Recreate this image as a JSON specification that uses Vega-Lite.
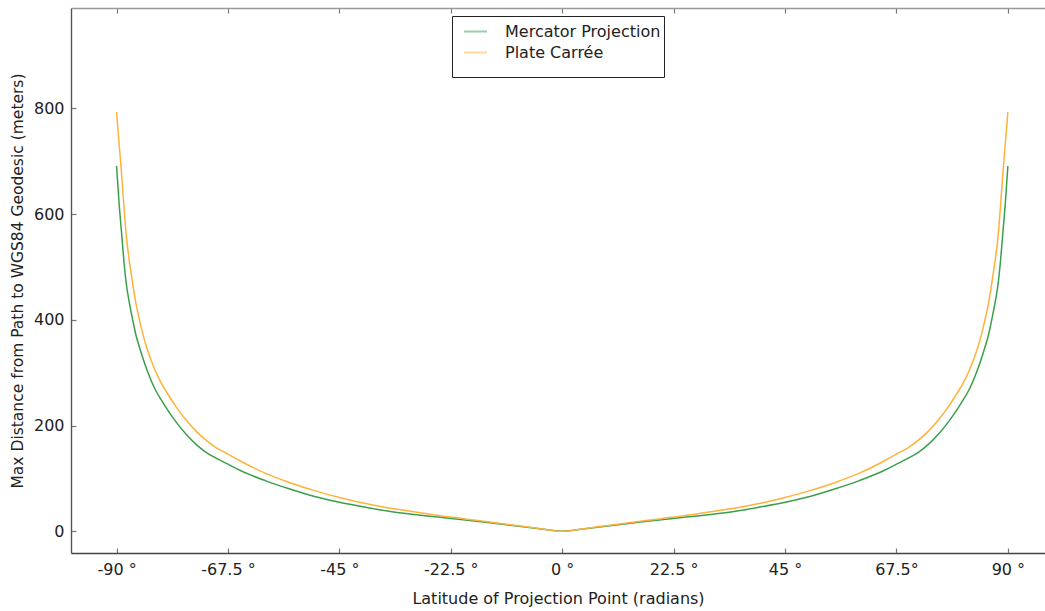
{
  "$schema": "https://vega.github.io/schema/vega-lite/v6.json",
  "width": 974,
  "height": 545,
  "autosize": {"type": "none"},
  "padding": {"left": 71, "top": 8, "right": 0, "bottom": 58},
  "background": "white",
  "config": {
    "view": {"stroke": null},
    "font": "DejaVu Sans",
    "axis": {"labelFont": "DejaVu Sans", "titleFont": "DejaVu Sans", "labelFontSize": 16, "titleFontSize": 16, "titleFontWeight": "normal", "labelColor": "#222", "titleColor": "#222", "grid": false, "tickColor": "#777", "tickWidth": 1.2}
  },
  "datasets": {
    "pts": [
      {"lat": -90, "v": 691, "s": "Mercator Projection"},
      {"lat": -89.5, "v": 622, "s": "Mercator Projection"},
      {"lat": -89, "v": 566, "s": "Mercator Projection"},
      {"lat": -88.5, "v": 510, "s": "Mercator Projection"},
      {"lat": -88, "v": 466, "s": "Mercator Projection"},
      {"lat": -87.5, "v": 437, "s": "Mercator Projection"},
      {"lat": -87, "v": 412, "s": "Mercator Projection"},
      {"lat": -86.5, "v": 389, "s": "Mercator Projection"},
      {"lat": -86, "v": 368, "s": "Mercator Projection"},
      {"lat": -85.5, "v": 352, "s": "Mercator Projection"},
      {"lat": -85, "v": 337, "s": "Mercator Projection"},
      {"lat": -84, "v": 309, "s": "Mercator Projection"},
      {"lat": -83, "v": 285, "s": "Mercator Projection"},
      {"lat": -82, "v": 265, "s": "Mercator Projection"},
      {"lat": -81, "v": 249, "s": "Mercator Projection"},
      {"lat": -80, "v": 234, "s": "Mercator Projection"},
      {"lat": -78, "v": 207, "s": "Mercator Projection"},
      {"lat": -76, "v": 184, "s": "Mercator Projection"},
      {"lat": -74, "v": 165, "s": "Mercator Projection"},
      {"lat": -72, "v": 150, "s": "Mercator Projection"},
      {"lat": -70, "v": 139, "s": "Mercator Projection"},
      {"lat": -67.5, "v": 127, "s": "Mercator Projection"},
      {"lat": -65, "v": 115, "s": "Mercator Projection"},
      {"lat": -60, "v": 96, "s": "Mercator Projection"},
      {"lat": -55, "v": 80, "s": "Mercator Projection"},
      {"lat": -50, "v": 66, "s": "Mercator Projection"},
      {"lat": -45, "v": 55, "s": "Mercator Projection"},
      {"lat": -40, "v": 46, "s": "Mercator Projection"},
      {"lat": -35, "v": 38, "s": "Mercator Projection"},
      {"lat": -30, "v": 32, "s": "Mercator Projection"},
      {"lat": -25, "v": 27, "s": "Mercator Projection"},
      {"lat": -20, "v": 22, "s": "Mercator Projection"},
      {"lat": -15, "v": 16.5, "s": "Mercator Projection"},
      {"lat": -10, "v": 11, "s": "Mercator Projection"},
      {"lat": -5, "v": 5.5, "s": "Mercator Projection"},
      {"lat": 0, "v": 0, "s": "Mercator Projection"},
      {"lat": 5, "v": 5.5, "s": "Mercator Projection"},
      {"lat": 10, "v": 11, "s": "Mercator Projection"},
      {"lat": 15, "v": 16.5, "s": "Mercator Projection"},
      {"lat": 20, "v": 22, "s": "Mercator Projection"},
      {"lat": 25, "v": 27, "s": "Mercator Projection"},
      {"lat": 30, "v": 32, "s": "Mercator Projection"},
      {"lat": 35, "v": 38, "s": "Mercator Projection"},
      {"lat": 40, "v": 46, "s": "Mercator Projection"},
      {"lat": 45, "v": 55, "s": "Mercator Projection"},
      {"lat": 50, "v": 66, "s": "Mercator Projection"},
      {"lat": 55, "v": 80, "s": "Mercator Projection"},
      {"lat": 60, "v": 96, "s": "Mercator Projection"},
      {"lat": 65, "v": 115, "s": "Mercator Projection"},
      {"lat": 67.5, "v": 127, "s": "Mercator Projection"},
      {"lat": 70, "v": 139, "s": "Mercator Projection"},
      {"lat": 72, "v": 150, "s": "Mercator Projection"},
      {"lat": 74, "v": 165, "s": "Mercator Projection"},
      {"lat": 76, "v": 184, "s": "Mercator Projection"},
      {"lat": 78, "v": 207, "s": "Mercator Projection"},
      {"lat": 80, "v": 234, "s": "Mercator Projection"},
      {"lat": 81, "v": 249, "s": "Mercator Projection"},
      {"lat": 82, "v": 265, "s": "Mercator Projection"},
      {"lat": 83, "v": 285, "s": "Mercator Projection"},
      {"lat": 84, "v": 309, "s": "Mercator Projection"},
      {"lat": 85, "v": 337, "s": "Mercator Projection"},
      {"lat": 85.5, "v": 352, "s": "Mercator Projection"},
      {"lat": 86, "v": 368, "s": "Mercator Projection"},
      {"lat": 86.5, "v": 389, "s": "Mercator Projection"},
      {"lat": 87, "v": 412, "s": "Mercator Projection"},
      {"lat": 87.5, "v": 437, "s": "Mercator Projection"},
      {"lat": 88, "v": 466, "s": "Mercator Projection"},
      {"lat": 88.5, "v": 510, "s": "Mercator Projection"},
      {"lat": 89, "v": 566, "s": "Mercator Projection"},
      {"lat": 89.5, "v": 622, "s": "Mercator Projection"},
      {"lat": 90, "v": 691, "s": "Mercator Projection"},
      {"lat": -90, "v": 793, "s": "Plate Carrée"},
      {"lat": -89.5, "v": 735, "s": "Plate Carrée"},
      {"lat": -89, "v": 678, "s": "Plate Carrée"},
      {"lat": -88.5, "v": 614, "s": "Plate Carrée"},
      {"lat": -88, "v": 556, "s": "Plate Carrée"},
      {"lat": -87.5, "v": 517, "s": "Plate Carrée"},
      {"lat": -87, "v": 485, "s": "Plate Carrée"},
      {"lat": -86.5, "v": 454, "s": "Plate Carrée"},
      {"lat": -86, "v": 427, "s": "Plate Carrée"},
      {"lat": -85.5, "v": 405, "s": "Plate Carrée"},
      {"lat": -85, "v": 385, "s": "Plate Carrée"},
      {"lat": -84, "v": 350, "s": "Plate Carrée"},
      {"lat": -83, "v": 323, "s": "Plate Carrée"},
      {"lat": -82, "v": 300, "s": "Plate Carrée"},
      {"lat": -81, "v": 281, "s": "Plate Carrée"},
      {"lat": -80, "v": 265, "s": "Plate Carrée"},
      {"lat": -78, "v": 236, "s": "Plate Carrée"},
      {"lat": -76, "v": 211, "s": "Plate Carrée"},
      {"lat": -74, "v": 190, "s": "Plate Carrée"},
      {"lat": -72, "v": 173, "s": "Plate Carrée"},
      {"lat": -70, "v": 159, "s": "Plate Carrée"},
      {"lat": -67.5, "v": 146, "s": "Plate Carrée"},
      {"lat": -65, "v": 133, "s": "Plate Carrée"},
      {"lat": -60, "v": 110, "s": "Plate Carrée"},
      {"lat": -55, "v": 92, "s": "Plate Carrée"},
      {"lat": -50, "v": 77, "s": "Plate Carrée"},
      {"lat": -45, "v": 64, "s": "Plate Carrée"},
      {"lat": -40, "v": 53, "s": "Plate Carrée"},
      {"lat": -35, "v": 44, "s": "Plate Carrée"},
      {"lat": -30, "v": 37, "s": "Plate Carrée"},
      {"lat": -25, "v": 30, "s": "Plate Carrée"},
      {"lat": -20, "v": 24, "s": "Plate Carrée"},
      {"lat": -15, "v": 18, "s": "Plate Carrée"},
      {"lat": -10, "v": 12, "s": "Plate Carrée"},
      {"lat": -5, "v": 6, "s": "Plate Carrée"},
      {"lat": 0, "v": 0, "s": "Plate Carrée"},
      {"lat": 5, "v": 6, "s": "Plate Carrée"},
      {"lat": 10, "v": 12, "s": "Plate Carrée"},
      {"lat": 15, "v": 18, "s": "Plate Carrée"},
      {"lat": 20, "v": 24, "s": "Plate Carrée"},
      {"lat": 25, "v": 30, "s": "Plate Carrée"},
      {"lat": 30, "v": 37, "s": "Plate Carrée"},
      {"lat": 35, "v": 44, "s": "Plate Carrée"},
      {"lat": 40, "v": 53, "s": "Plate Carrée"},
      {"lat": 45, "v": 64, "s": "Plate Carrée"},
      {"lat": 50, "v": 77, "s": "Plate Carrée"},
      {"lat": 55, "v": 92, "s": "Plate Carrée"},
      {"lat": 60, "v": 110, "s": "Plate Carrée"},
      {"lat": 65, "v": 133, "s": "Plate Carrée"},
      {"lat": 67.5, "v": 146, "s": "Plate Carrée"},
      {"lat": 70, "v": 159, "s": "Plate Carrée"},
      {"lat": 72, "v": 173, "s": "Plate Carrée"},
      {"lat": 74, "v": 190, "s": "Plate Carrée"},
      {"lat": 76, "v": 211, "s": "Plate Carrée"},
      {"lat": 78, "v": 236, "s": "Plate Carrée"},
      {"lat": 80, "v": 265, "s": "Plate Carrée"},
      {"lat": 81, "v": 281, "s": "Plate Carrée"},
      {"lat": 82, "v": 300, "s": "Plate Carrée"},
      {"lat": 83, "v": 323, "s": "Plate Carrée"},
      {"lat": 84, "v": 350, "s": "Plate Carrée"},
      {"lat": 85, "v": 385, "s": "Plate Carrée"},
      {"lat": 85.5, "v": 405, "s": "Plate Carrée"},
      {"lat": 86, "v": 427, "s": "Plate Carrée"},
      {"lat": 86.5, "v": 454, "s": "Plate Carrée"},
      {"lat": 87, "v": 485, "s": "Plate Carrée"},
      {"lat": 87.5, "v": 517, "s": "Plate Carrée"},
      {"lat": 88, "v": 556, "s": "Plate Carrée"},
      {"lat": 88.5, "v": 614, "s": "Plate Carrée"},
      {"lat": 89, "v": 678, "s": "Plate Carrée"},
      {"lat": 89.5, "v": 735, "s": "Plate Carrée"},
      {"lat": 90, "v": 793, "s": "Plate Carrée"}
    ]
  },
  "data": {"name": "pts"},
  "layer": [
    {
      "mark": {"type": "line", "strokeWidth": 1.5, "interpolate": "monotone"},
      "encoding": {
        "x": {
          "field": "lat", "type": "quantitative",
          "scale": {"domain": [-99.2, 97.5], "nice": false, "zero": false},
          "axis": {
            "orient": "bottom",
            "title": "Latitude of Projection Point (radians)",
            "values": [-90, -67.5, -45, -22.5, 0, 22.5, 45, 67.5, 90],
            "labelExpr": "datum.value == 67.5 ? '67.5°' : datum.value + ' °'",
            "tickSize": -5, "labelPadding": 13, "titlePadding": 13,
            "domainColor": "#444", "domainWidth": 1.6, "labelFlush": false, "labelOverlap": false
          }
        },
        "y": {
          "field": "v", "type": "quantitative",
          "scale": {"domain": [-41, 990], "nice": false, "zero": false},
          "axis": {
            "title": "Max Distance from Path to WGS84 Geodesic (meters)",
            "titleFontSize": 15.5,
            "values": [0, 200, 400, 600, 800],
            "tickSize": -5, "labelPadding": 12, "titlePadding": 8,
            "domainColor": "#555", "domainWidth": 1.4, "labelFlush": false
          }
        },
        "color": {
          "field": "s", "type": "nominal",
          "scale": {"domain": ["Mercator Projection", "Plate Carrée"], "range": ["#3a9f4b", "#ffb23a"]},
          "legend": {
            "orient": "none", "legendX": 381, "legendY": 8,
            "title": " ", "titleOrient": "bottom", "titleFontSize": 8, "titlePadding": 5,
            "strokeColor": "#222", "fillColor": "white", "padding": 3,
            "symbolType": "stroke", "symbolSize": 529, "symbolStrokeWidth": 2, "symbolOpacity": 0.5, "symbolOffset": 8,
            "labelFont": "DejaVu Sans", "labelFontSize": 16, "labelColor": "#222", "labelOffset": 17, "rowPadding": 0, "labelLimit": 300
          }
        }
      }
    },
    {
      "mark": {"type": "rule", "opacity": 0},
      "encoding": {
        "x": {
          "field": "lat", "type": "quantitative",
          "scale": {"domain": [-99.2, 97.5], "nice": false, "zero": false},
          "axis": {
            "orient": "top", "title": null, "labels": false,
            "values": [-90, -67.5, -45, -22.5, 0, 22.5, 45, 67.5, 90],
            "tickSize": -5, "domainColor": "#999", "domainWidth": 1.6
          }
        }
      }
    }
  ],
  "resolve": {"axis": {"x": "independent"}}
}
